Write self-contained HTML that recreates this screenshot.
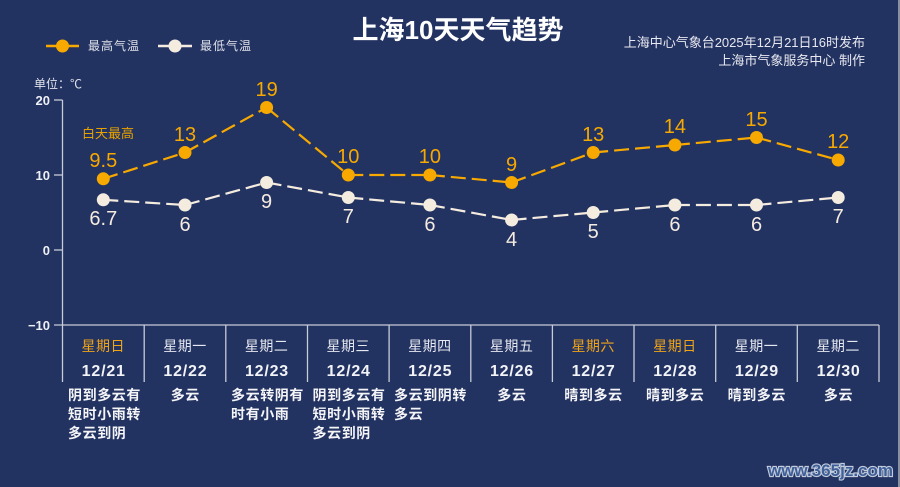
<!DOCTYPE html>
<html><head><meta charset="utf-8"><style>
html,body{margin:0;padding:0;background:#223261;}
svg{display:block;}
text{font-family:"Liberation Sans","Noto Sans CJK SC",sans-serif;}
</style></head><body>
<svg width="900" height="487" viewBox="0 0 900 487" xmlns="http://www.w3.org/2000/svg">
<rect width="900" height="487" fill="#223261"/>
<rect x="898" y="0" width="2" height="487" fill="#8a90a2"/>
<!-- title -->
<text x="458" y="39" text-anchor="middle" font-size="26" font-weight="bold" fill="#ffffff">上海10天天气趋势</text>
<text x="865" y="47" text-anchor="end" font-size="13" fill="#e8e8f0">上海中心气象台2025年12月21日16时发布</text>
<text x="865" y="65" text-anchor="end" font-size="13" fill="#e8e8f0">上海市气象服务中心 制作</text>
<!-- legend -->
<line x1="46" y1="46" x2="79" y2="46" stroke="#f7a900" stroke-width="2.5"/>
<circle cx="62.5" cy="46" r="6.5" fill="#f7a900"/>
<text x="88" y="50" font-size="12" letter-spacing="1" fill="#e0e2ea">最高气温</text>
<line x1="158" y1="46" x2="192" y2="46" stroke="#f5ece0" stroke-width="2.5"/>
<circle cx="175" cy="46" r="6.5" fill="#f5ece0"/>
<text x="200" y="50" font-size="12" letter-spacing="1" fill="#e0e2ea">最低气温</text>
<text x="34" y="88" font-size="12" fill="#e0e2ea">单位：℃</text>
<!-- axis -->
<g stroke="#c8ccd8" stroke-width="1.3" fill="none">
<line x1="62.5" y1="100" x2="62.5" y2="382"/>
<line x1="54" y1="100" x2="62.5" y2="100"/>
<line x1="54" y1="175" x2="62.5" y2="175"/>
<line x1="54" y1="250" x2="62.5" y2="250"/>
<line x1="54" y1="325" x2="879" y2="325"/>
<line x1="144.2" y1="325" x2="144.2" y2="382"/>
<line x1="225.8" y1="325" x2="225.8" y2="382"/>
<line x1="307.5" y1="325" x2="307.5" y2="382"/>
<line x1="389.1" y1="325" x2="389.1" y2="382"/>
<line x1="470.8" y1="325" x2="470.8" y2="382"/>
<line x1="552.4" y1="325" x2="552.4" y2="382"/>
<line x1="634" y1="325" x2="634" y2="382"/>
<line x1="715.7" y1="325" x2="715.7" y2="382"/>
<line x1="797.3" y1="325" x2="797.3" y2="382"/>
<line x1="879" y1="325" x2="879" y2="382"/>
</g>
<g font-size="13" font-weight="bold" fill="#eef0f5" text-anchor="end">
<text x="50" y="105">20</text>
<text x="50" y="180">10</text>
<text x="50" y="255">0</text>
<text x="50" y="330">−10</text>
</g>
<text x="82" y="138" font-size="13" fill="#e8a200">白天最高</text>
<!-- high series -->
<g stroke="#f7a900" stroke-width="2.2" stroke-dasharray="15 6" fill="none">
<line x1="103.3" y1="178.8" x2="185" y2="152.5"/>
<line x1="185" y1="152.5" x2="266.6" y2="107.5"/>
<line x1="266.6" y1="107.5" x2="348.3" y2="175"/>
<line x1="348.3" y1="175" x2="429.9" y2="175"/>
<line x1="429.9" y1="175" x2="511.6" y2="182.5"/>
<line x1="511.6" y1="182.5" x2="593.2" y2="152.5"/>
<line x1="593.2" y1="152.5" x2="674.9" y2="145"/>
<line x1="674.9" y1="145" x2="756.5" y2="137.5"/>
<line x1="756.5" y1="137.5" x2="838.2" y2="160"/>
</g>
<g fill="#f7a900">
<circle cx="103.3" cy="178.8" r="6.5"/>
<circle cx="185" cy="152.5" r="6.5"/>
<circle cx="266.6" cy="107.5" r="6.5"/>
<circle cx="348.3" cy="175" r="6.5"/>
<circle cx="429.9" cy="175" r="6.5"/>
<circle cx="511.6" cy="182.5" r="6.5"/>
<circle cx="593.2" cy="152.5" r="6.5"/>
<circle cx="674.9" cy="145" r="6.5"/>
<circle cx="756.5" cy="137.5" r="6.5"/>
<circle cx="838.2" cy="160" r="6.5"/>
</g>
<g fill="#f7a900" font-size="20" text-anchor="middle">
<text x="103.3" y="167">9.5</text>
<text x="185" y="141">13</text>
<text x="266.6" y="96">19</text>
<text x="348.3" y="163">10</text>
<text x="429.9" y="163">10</text>
<text x="511.6" y="171">9</text>
<text x="593.2" y="141">13</text>
<text x="674.9" y="133">14</text>
<text x="756.5" y="126">15</text>
<text x="838.2" y="148">12</text>
</g>
<!-- low series -->
<g stroke="#f5ece0" stroke-width="2.2" stroke-dasharray="15 6" fill="none">
<line x1="103.3" y1="199.8" x2="185" y2="205"/>
<line x1="185" y1="205" x2="266.6" y2="182.5"/>
<line x1="266.6" y1="182.5" x2="348.3" y2="197.5"/>
<line x1="348.3" y1="197.5" x2="429.9" y2="205"/>
<line x1="429.9" y1="205" x2="511.6" y2="220"/>
<line x1="511.6" y1="220" x2="593.2" y2="212.5"/>
<line x1="593.2" y1="212.5" x2="674.9" y2="205"/>
<line x1="674.9" y1="205" x2="756.5" y2="205"/>
<line x1="756.5" y1="205" x2="838.2" y2="197.5"/>
</g>
<g fill="#f5ece0">
<circle cx="103.3" cy="199.8" r="6.5"/>
<circle cx="185" cy="205" r="6.5"/>
<circle cx="266.6" cy="182.5" r="6.5"/>
<circle cx="348.3" cy="197.5" r="6.5"/>
<circle cx="429.9" cy="205" r="6.5"/>
<circle cx="511.6" cy="220" r="6.5"/>
<circle cx="593.2" cy="212.5" r="6.5"/>
<circle cx="674.9" cy="205" r="6.5"/>
<circle cx="756.5" cy="205" r="6.5"/>
<circle cx="838.2" cy="197.5" r="6.5"/>
</g>
<g fill="#f5ece0" font-size="20" text-anchor="middle">
<text x="103.3" y="225">6.7</text>
<text x="185" y="231">6</text>
<text x="266.6" y="208">9</text>
<text x="348.3" y="223">7</text>
<text x="429.9" y="231">6</text>
<text x="511.6" y="246">4</text>
<text x="593.2" y="238">5</text>
<text x="674.9" y="231">6</text>
<text x="756.5" y="231">6</text>
<text x="838.2" y="223">7</text>
</g>
<!-- table -->
<g font-size="14" letter-spacing="0.5" text-anchor="middle">
<text x="103.3" y="351" fill="#f0a418">星期日</text>
<text x="185" y="351" fill="#e6e8f0">星期一</text>
<text x="266.6" y="351" fill="#e6e8f0">星期二</text>
<text x="348.3" y="351" fill="#e6e8f0">星期三</text>
<text x="429.9" y="351" fill="#e6e8f0">星期四</text>
<text x="511.6" y="351" fill="#e6e8f0">星期五</text>
<text x="593.2" y="351" fill="#f0a418">星期六</text>
<text x="674.9" y="351" fill="#f0a418">星期日</text>
<text x="756.5" y="351" fill="#e6e8f0">星期一</text>
<text x="838.2" y="351" fill="#e6e8f0">星期二</text>
</g>
<g font-size="16" font-weight="bold" letter-spacing="0.8" text-anchor="middle" fill="#f2f3f7">
<text x="103.7" y="376">12/21</text>
<text x="185.4" y="376">12/22</text>
<text x="267" y="376">12/23</text>
<text x="348.7" y="376">12/24</text>
<text x="430.3" y="376">12/25</text>
<text x="512" y="376">12/26</text>
<text x="593.6" y="376">12/27</text>
<text x="675.3" y="376">12/28</text>
<text x="756.9" y="376">12/29</text>
<text x="838.6" y="376">12/30</text>
</g>
<g font-size="14" font-weight="bold" letter-spacing="0.6" fill="#f5f5f8">
<text x="68" y="400">阴到多云有</text>
<text x="68" y="419">短时小雨转</text>
<text x="68" y="438">多云到阴</text>
<text x="231" y="400">多云转阴有</text>
<text x="231" y="419">时有小雨</text>
<text x="312.5" y="400">阴到多云有</text>
<text x="312.5" y="419">短时小雨转</text>
<text x="312.5" y="438">多云到阴</text>
<text x="394" y="400">多云到阴转</text>
<text x="394" y="419">多云</text>
</g>
<g font-size="14" font-weight="bold" letter-spacing="0.6" fill="#f5f5f8" text-anchor="middle">
<text x="185.3" y="400">多云</text>
<text x="511.9" y="400">多云</text>
<text x="593.5" y="400">晴到多云</text>
<text x="675.2" y="400">晴到多云</text>
<text x="756.8" y="400">晴到多云</text>
<text x="838.5" y="400">多云</text>
</g>
<!-- watermark -->
<text x="893" y="476" text-anchor="end" font-family="Liberation Serif, serif" font-size="17" font-weight="bold" fill="#3f5f98" stroke="#c3ccdc" stroke-width="2.2" paint-order="stroke">www.365jz.com</text>
</svg>
</body></html>
